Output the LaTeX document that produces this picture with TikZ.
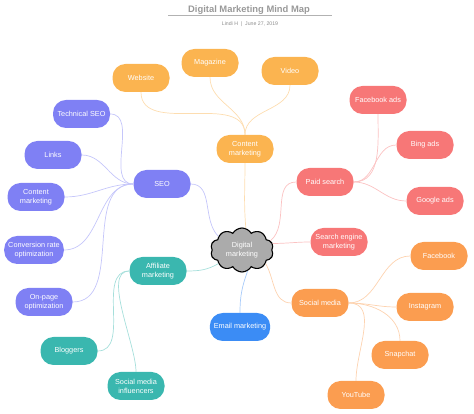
\documentclass[tikz,border=0pt]{standalone}
\usepackage{fontspec}
\setmainfont{Liberation Sans}
\usepackage{xcolor}
\usepackage{tikz}
\usetikzlibrary{shapes.symbols}
\definecolor{mmyellow}{HTML}{FBB450}
\definecolor{mmpurple}{HTML}{7F80F4}
\definecolor{mmteal}{HTML}{3AB7AF}
\definecolor{mmblue}{HTML}{3B8CF5}
\definecolor{mmred}{HTML}{F77777}
\definecolor{mmorange}{HTML}{FB9D50}
\definecolor{mmgray}{HTML}{ABABAB}

\begin{document}
\begin{tikzpicture}[x=1pt,y=1pt,
  box/.style={rectangle, rounded corners=13pt, fill=#1, text=white,
    minimum width=57pt, minimum height=28pt, inner xsep=4pt, align=center,
    font=\fontsize{7.3}{9}\selectfont},
  link/.style={draw=#1!45!white, line width=0.7pt}]
\useasboundingbox (0,0) rectangle (474,414);

\node[text=gray!80, font=\bfseries\fontsize{9.4}{11}\selectfont] (title) at (249,404) {Digital Marketing Mind Map};
\coordinate (rulel) at (168,398);
\coordinate (ruler) at (332,398);
\draw[gray!60, line width=1pt] (rulel) -- (ruler);
\node[text=gray!90, font=\fontsize{5.2}{6}\selectfont] (sub) at (250,390) {Lindi H \ | \ June 27, 2019};

\node[cloud, cloud puffs=10, cloud puff arc=120, aspect=1.5, draw=black, line width=1.1pt,
  fill=mmgray, text=white, minimum width=63pt, minimum height=44pt, inner sep=0pt,
  align=center, font=\fontsize{7.3}{9}\selectfont] (dm) at (242,164) {Digital\\marketing};

\node[box=mmyellow] (cm) at (245,265) {Content\\marketing};
\node[box=mmyellow] (web) at (141,336) {Website};
\node[box=mmyellow] (mag) at (210,351) {Magazine};
\node[box=mmyellow] (vid) at (290,343) {Video};

\node[box=mmpurple] (seo) at (162,230) {SEO};
\node[box=mmpurple] (tech) at (81.5,300) {Technical SEO};
\node[box=mmpurple] (links) at (53,259) {Links};
\node[box=mmpurple] (seocm) at (36,217) {Content\\marketing};
\node[box=mmpurple] (cro) at (34,164) {Conversion rate\\optimization};
\node[box=mmpurple] (onp) at (44,112) {On-page\\optimization};

\node[box=mmteal] (aff) at (158,143) {Affiliate\\marketing};
\node[box=mmteal] (blog) at (69,63) {Bloggers};
\node[box=mmteal] (smi) at (136,28) {Social media\\influencers};

\node[box=mmblue] (em) at (240,87) {Email marketing};

\node[box=mmred] (ps) at (325,232) {Paid search};
\node[box=mmred] (fbads) at (378,314) {Facebook ads};
\node[box=mmred] (bing) at (425,269) {Bing ads};
\node[box=mmred] (gads) at (435,213) {Google ads};
\node[box=mmred] (sem) at (339,172) {Search engine\\marketing};

\node[box=mmorange] (sm) at (320,111) {Social media};
\node[box=mmorange] (fb) at (439,158) {Facebook};
\node[box=mmorange] (insta) at (425,107) {Instagram};
\node[box=mmorange] (snap) at (400,59) {Snapchat};
\node[box=mmorange] (yt) at (356,19) {YouTube};

\draw[link=mmyellow] (cm.south) to[out=-90,in=95] (dm.80);
\draw[link=mmyellow] (web.south) to[out=-90,in=90] (cm.north);
\draw[link=mmyellow] (mag.south) to[out=-90,in=90] (cm.north);
\draw[link=mmyellow] (vid.south) to[out=-90,in=90] (cm.north);

\draw[link=mmpurple] (seo.east) to[out=0,in=135] (dm.150);
\draw[link=mmpurple] (seo.west) to[out=180,in=0] (tech.east);
\draw[link=mmpurple] (seo.west) to[out=180,in=0] (links.east);
\draw[link=mmpurple] (seo.west) to[out=180,in=0] (seocm.east);
\draw[link=mmpurple] (seo.west) to[out=180,in=0] (cro.east);
\draw[link=mmpurple] (seo.west) to[out=180,in=0] (onp.east);

\draw[link=mmteal] (aff.east) to[out=0,in=-150] (dm.210);
\draw[link=mmteal] (aff.west) to[out=180,in=0] (blog.east);
\draw[link=mmteal] (aff.west) to[out=180,in=90,looseness=0.7] (smi.north);

\draw[link=mmblue] (dm.-75) to[out=-110,in=90] (em.north);

\draw[link=mmred] (dm.18) to[out=40,in=180] (ps.west);
\draw[link=mmred] (dm.12) to[out=0,in=180] (sem.west);
\draw[link=mmred] (ps.east) to[out=0,in=-90] (fbads.south);
\draw[link=mmred] (ps.east) to[out=0,in=180] (bing.west);
\draw[link=mmred] (ps.east) to[out=0,in=180] (gads.west);

\draw[link=mmorange] (dm.-30) to[out=-60,in=180] (sm.west);
\draw[link=mmorange] (sm.east) to[out=0,in=180] (fb.west);
\draw[link=mmorange] (sm.east) to[out=0,in=180] (insta.west);
\draw[link=mmorange] (sm.east) to[out=0,in=90] (snap.north);
\draw[link=mmorange] (sm.east) to[out=0,in=90] (yt.north);
\end{tikzpicture}
\end{document}
